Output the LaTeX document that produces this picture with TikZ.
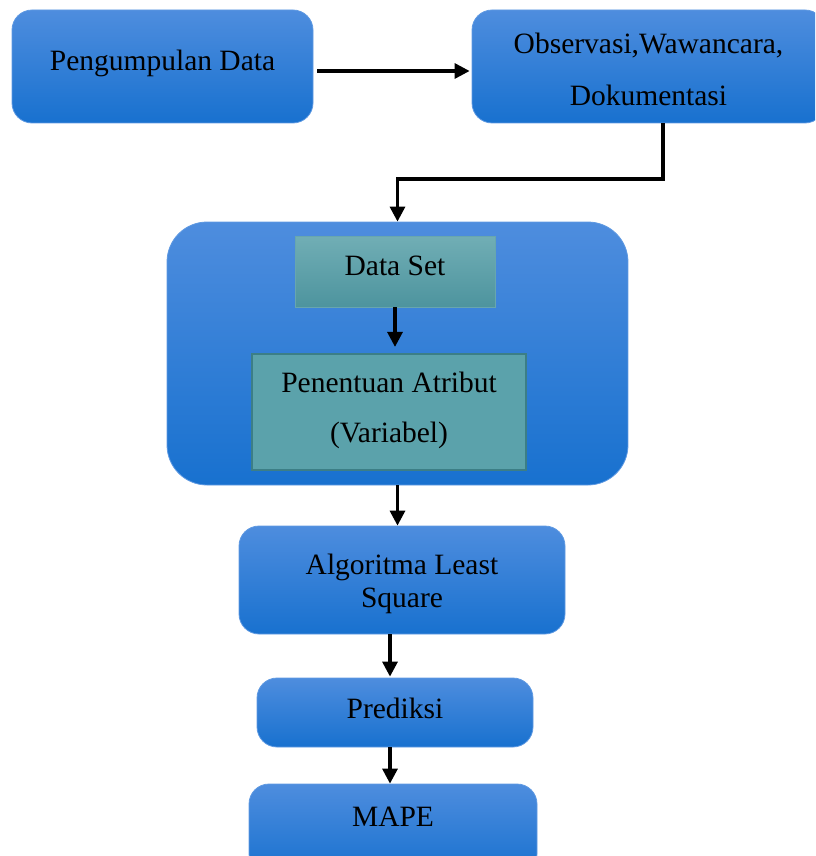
\documentclass[tikz,border=0pt]{standalone}
\usepackage{fontspec}
\setmainfont{Liberation Serif}
\usetikzlibrary{arrows.meta,calc}

\definecolor{boxtop}{RGB}{78,141,222}
\definecolor{boxbot}{RGB}{24,113,207}
\definecolor{boxline}{RGB}{96,154,226}
\definecolor{tealtop}{RGB}{113,174,181}
\definecolor{tealbot}{RGB}{77,148,158}
\definecolor{tealedge}{RGB}{104,166,174}
\definecolor{tealfill}{RGB}{91,162,171}
\definecolor{tealline}{RGB}{60,126,134}

% shift a label vertically without changing the box size seen by its node
\newcommand{\liftby}[2]{\raisebox{#1}[\height][\depth]{#2}}

\begin{document}
\begin{tikzpicture}[x=1pt,y=-1pt,
  txt/.style={font=\fontsize{29.5}{33}\selectfont, align=center, inner sep=0pt},
  bluebox/.style={txt, rectangle, rounded corners=20pt, draw=boxline, line width=0.8pt,
                  top color=boxtop, bottom color=boxbot},
  groupbox/.style={rectangle, rounded corners=40pt, draw=boxline, line width=0.8pt,
                  top color=boxtop, bottom color=boxbot, inner sep=0pt},
  databox/.style={txt, rectangle, draw=tealedge, line width=0.8pt,
                  top color=tealtop, bottom color=tealbot},
  attrbox/.style={txt, rectangle, draw=tealline, line width=2.2pt, fill=tealfill},
  flow/.style={line width=3.2pt, -{Triangle[length=15pt,width=15pt]}}
]
\useasboundingbox (0,0) rectangle (815,856);
\clip (0,0) rectangle (815,856);

% collection stage
\node[bluebox, minimum width=301pt, minimum height=113pt] (pd) at (162.5,66.5)
  {\liftby{3.5pt}{Pengumpulan Data}};
\node[bluebox, minimum width=353pt, minimum height=113pt] (obs) at (648.5,66.5)
  {\liftby{-2.5pt}{\parbox{340pt}{\centering Observasi,Wawancara,\\[19pt]Dokumentasi}}};

% data preparation group
\node[groupbox, minimum width=461pt, minimum height=263pt] (grp) at (397.5,353.5) {};
\node[databox, minimum width=200pt, minimum height=71pt] (ds) at (395,271.5)
  {\liftby{5.5pt}{Data Set}};
\node[attrbox, minimum width=274pt, minimum height=116pt] (attr) at (389,412)
  {\liftby{1.5pt}{\parbox{260pt}{\centering Penentuan Atribut\\[17pt](Variabel)}}};

% modelling and evaluation
\node[bluebox, minimum width=326pt, minimum height=108pt] (lsq) at (402,580)
  {\liftby{-4pt}{\parbox{310pt}{\centering Algoritma Least\\Square}}};
\node[bluebox, minimum width=276pt, minimum height=69pt] (pred) at (395,712.5)
  {\liftby{4pt}{Prediksi}};
\node[bluebox, minimum width=288pt, minimum height=90pt] (mape) at (393,829)
  {\liftby{12.5pt}{MAPE}};

% connectors
\coordinate (bend) at (663,179);
\coordinate (col) at (390,0);

\draw[flow, shorten <=4pt, shorten >=2pt] ([yshift=-4.5pt]pd.east) -- ([yshift=-4.5pt]obs.west);
\draw[flow, line join=miter] (obs.south -| bend) -- (bend) -| (grp.north);
\draw[flow, shorten >=6pt] (ds.south) -- (attr.north -| ds.south);
\draw[flow] (grp.south) -- (lsq.north -| grp.south);
\draw[flow, shorten >=1pt] (lsq.south -| col) -- (pred.north -| col);
\draw[flow] (pred.south -| col) -- (mape.north -| col);
\end{tikzpicture}
\end{document}
